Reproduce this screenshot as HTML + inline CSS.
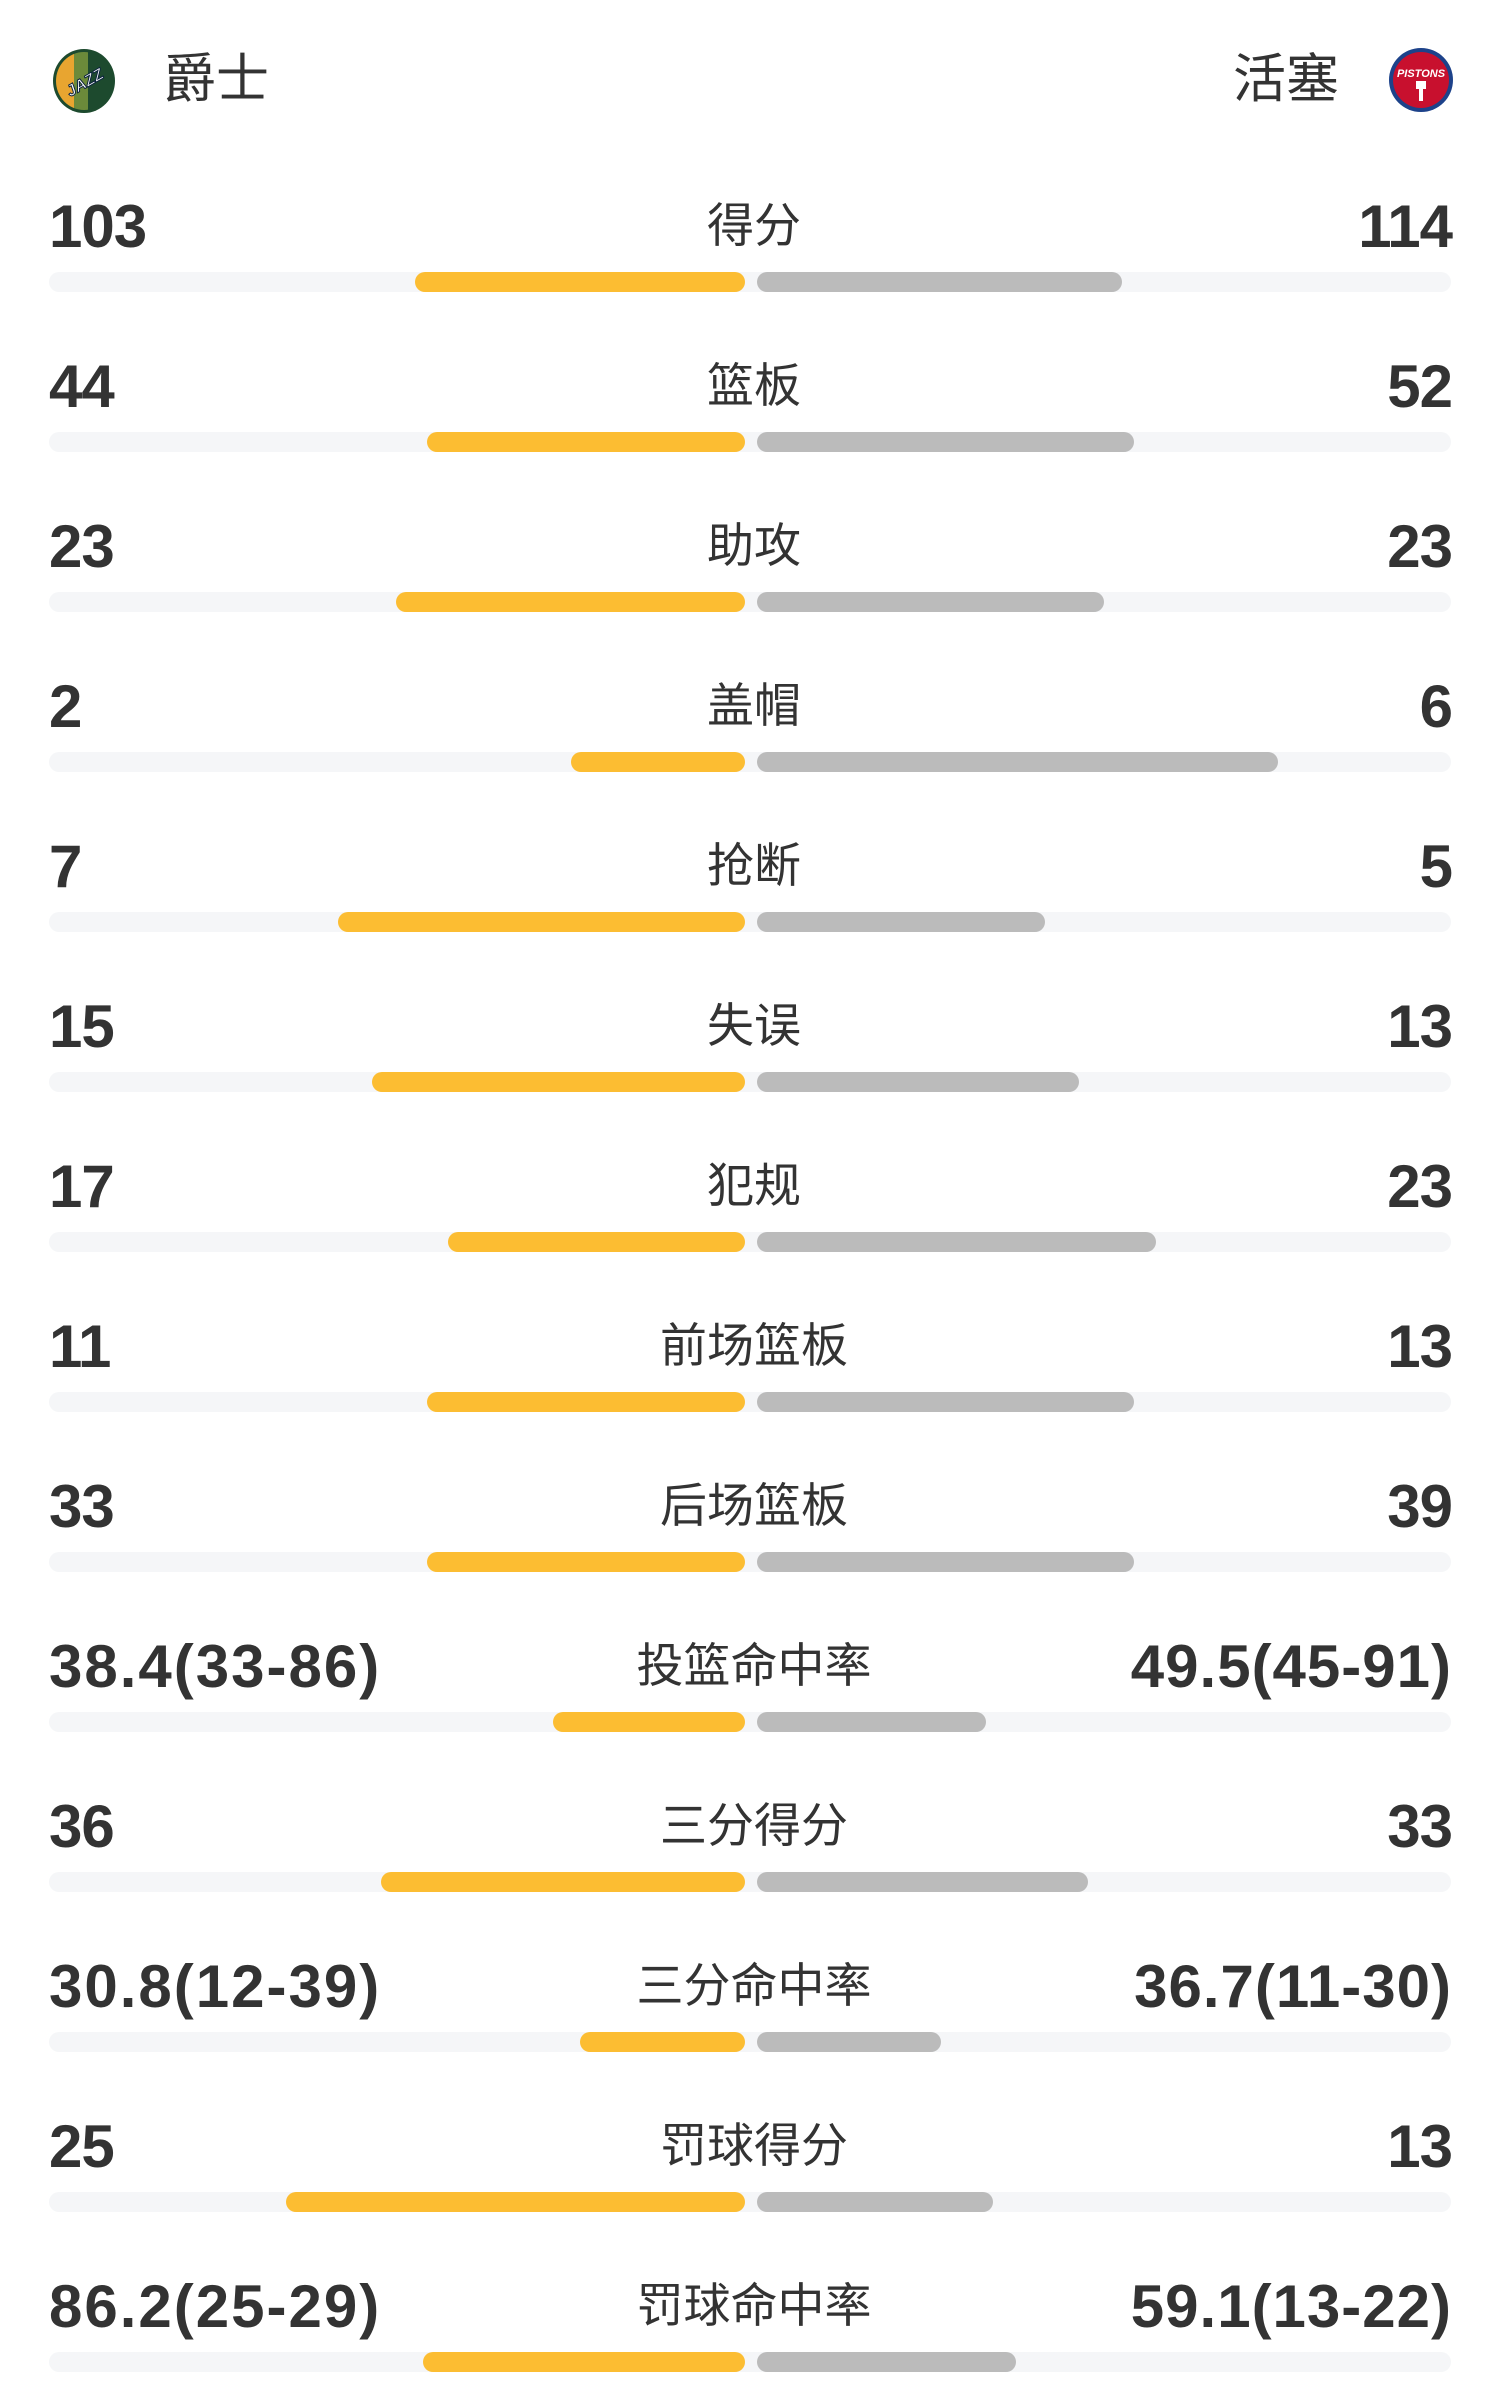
<!DOCTYPE html>
<html><head><meta charset="utf-8"><style>
body{margin:0;width:1500px;height:2400px;background:#fff;position:relative;overflow:hidden;font-family:"Liberation Sans","Noto Sans CJK SC",sans-serif;color:#333}
.a{position:absolute}
.n{position:absolute;font-weight:bold;font-size:60px;line-height:60px;white-space:nowrap;letter-spacing:-1px}
.n.w{letter-spacing:2px}
.n.w.r{letter-spacing:1px}
.l{position:absolute;left:499px;width:510px;text-align:center;font-size:47px;line-height:60px;white-space:nowrap}
.t{position:absolute;left:49px;width:1402px;height:20px;background:#f5f6f8;border-radius:10px}
.o{position:absolute;height:20px;background:#fcbd32;border-radius:10px}
.g{position:absolute;height:20px;background:#bbbbbb;border-radius:10px}
.tm{position:absolute;top:50px;font-size:53px;line-height:60px}
</style></head><body>
<svg class="a" style="left:52px;top:48px" width="64" height="66" viewBox="0 0 64 66">
<ellipse cx="32" cy="33" rx="31" ry="32" fill="#1d4a2e"/>
<clipPath id="c"><ellipse cx="32" cy="33" rx="28" ry="29"/></clipPath>
<g clip-path="url(#c)"><rect x="0" y="0" width="22" height="66" fill="#e8a530"/><rect x="22" y="0" width="14" height="66" fill="#6b8a3a"/><rect x="36" y="0" width="30" height="66" fill="#1d4a2e"/></g>
<text x="32" y="40" font-family="Liberation Sans" font-weight="bold" font-style="italic" font-size="16" fill="#fff" stroke="#0c2340" stroke-width="1" text-anchor="middle" transform="rotate(-30 32 33)">JAZZ</text>
</svg>
<div class="tm" style="left:163px">爵士</div>
<div class="tm" style="left:1233px">活塞</div>
<svg class="a" style="left:1388px;top:47px" width="66" height="66" viewBox="0 0 66 66">
<circle cx="33" cy="33" r="32" fill="#1d428a"/><circle cx="33" cy="33" r="28" fill="#c8102e"/>
<text x="33" y="30" font-family="Liberation Sans" font-weight="bold" font-style="italic" font-size="11" fill="#fff" text-anchor="middle">PISTONS</text>
<rect x="28" y="34" width="10" height="8" fill="#fff"/><rect x="31" y="42" width="4" height="12" fill="#fff"/>
</svg>
<div id="rows"></div>
<script>
var d=[["103","得分","114",415,1122],["44","篮板","52",427,1134],["23","助攻","23",396,1104],["2","盖帽","6",571,1278],["7","抢断","5",338,1045],["15","失误","13",372,1079],["17","犯规","23",448,1156],["11","前场篮板","13",427,1134],["33","后场篮板","39",427,1134],["38.4(33-86)","投篮命中率","49.5(45-91)",553,986],["36","三分得分","33",381,1088],["30.8(12-39)","三分命中率","36.7(11-30)",580,941],["25","罚球得分","13",286,993],["86.2(25-29)","罚球命中率","59.1(13-22)",423,1016]];
var h="";
d.forEach(function(r,i){var y=160*i;var w=r[0].length>4?" w":"";
h+='<div class="n'+w+'" style="left:49px;top:'+(197+y)+'px">'+r[0]+'</div>';
h+='<div class="n r'+w+'" style="right:48px;top:'+(197+y)+'px">'+r[2]+'</div>';
h+='<div class="l" style="top:'+(196+y)+'px">'+r[1]+'</div>';
h+='<div class="t" style="top:'+(272+y)+'px"></div>';
h+='<div class="o" style="top:'+(272+y)+'px;left:'+r[3]+'px;width:'+(745-r[3])+'px"></div>';
h+='<div class="g" style="top:'+(272+y)+'px;left:757px;width:'+(r[4]-757)+'px"></div>';});
document.getElementById("rows").innerHTML=h;
</script>
</body></html>
